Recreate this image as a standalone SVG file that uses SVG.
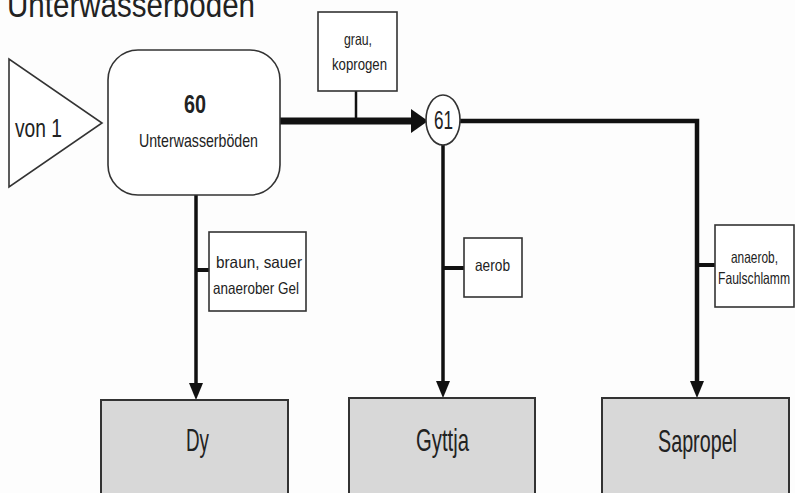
<svg xmlns="http://www.w3.org/2000/svg" width="795" height="493" viewBox="0 0 795 493">
  <style>
    text { font-family: "Liberation Sans", Arial, sans-serif; fill: #222; }
    .title { font-size: 35px; }
    .big { font-size: 26px; }
    .lbl { font-size: 16.5px; }
    .res { font-size: 32px; }
    .frame { fill: #fff; stroke: #333; stroke-width: 1.6; }
    .result { fill: #d8d8d8; stroke: #333; stroke-width: 2; }
    .wire { fill: none; stroke: #111; stroke-linecap: butt; }
    .head { fill: #111; }
  </style>

  <rect width="795" height="493" fill="#fdfdfd"/>

  <text class="title" x="7" y="17" textLength="248" lengthAdjust="spacingAndGlyphs">Unterwasserböden</text>

  <!-- connectors -->
  <g id="connectors">
    <!-- 60 -> 61 -->
    <line class="wire" x1="280" y1="121" x2="413" y2="121" stroke-width="7"/>
    <polygon class="head" points="411,109 428,121 411,133"/>
    <line class="wire" x1="356" y1="91" x2="356" y2="121" stroke-width="2.5"/>

    <!-- 60 -> Dy -->
    <line class="wire" x1="196" y1="195" x2="196" y2="386" stroke-width="3.5"/>
    <polygon class="head" points="189,383 203,383 196,400"/>
    <line class="wire" x1="196" y1="270" x2="209" y2="270" stroke-width="4"/>

    <!-- 61 -> Gyttja -->
    <line class="wire" x1="443" y1="145" x2="443" y2="384" stroke-width="3.5"/>
    <polygon class="head" points="436,381 450,381 443,398"/>
    <line class="wire" x1="443" y1="268" x2="464" y2="268" stroke-width="4"/>

    <!-- 61 -> Sapropel -->
    <polyline class="wire" points="460,121 697,121 697,384" stroke-width="4.5" stroke-linejoin="miter"/>
    <polygon class="head" points="690,381 704,381 697,398"/>
    <line class="wire" x1="697" y1="265" x2="715" y2="265" stroke-width="4"/>
  </g>

  <g id="von1">
    <polygon class="frame" points="9,59 9,187 102,123"/>
    <text class="big" x="15" y="137" textLength="47" lengthAdjust="spacingAndGlyphs">von 1</text>
  </g>

  <g id="n60">
    <rect class="frame" x="108" y="50" width="172" height="145" rx="30" ry="30"/>
    <text class="big" x="184" y="113" font-weight="bold" textLength="22" lengthAdjust="spacingAndGlyphs">60</text>
    <text x="139" y="147" font-size="18.5" textLength="119" lengthAdjust="spacingAndGlyphs">Unterwasserböden</text>
  </g>

  <g id="n61">
    <ellipse class="frame" cx="443" cy="120" rx="17" ry="25"/>
    <text class="big" x="434" y="129" textLength="19" lengthAdjust="spacingAndGlyphs">61</text>
  </g>

  <g id="lbl-grau">
    <rect class="frame" x="318" y="12" width="79" height="79"/>
    <text class="lbl" x="344" y="45" textLength="28" lengthAdjust="spacingAndGlyphs">grau,</text>
    <text class="lbl" x="332" y="70" textLength="55" lengthAdjust="spacingAndGlyphs">koprogen</text>
  </g>

  <g id="lbl-braun">
    <rect class="frame" x="209" y="232" width="97" height="79"/>
    <text class="lbl" x="216" y="268" textLength="86" lengthAdjust="spacingAndGlyphs">braun, sauer</text>
    <text class="lbl" x="213" y="294" textLength="86" lengthAdjust="spacingAndGlyphs">anaerober Gel</text>
  </g>

  <g id="lbl-aerob">
    <rect class="frame" x="464" y="238" width="58" height="59"/>
    <text class="lbl" x="475" y="271" textLength="35" lengthAdjust="spacingAndGlyphs">aerob</text>
  </g>

  <g id="lbl-anaerob">
    <rect class="frame" x="715" y="225" width="79" height="82"/>
    <text class="lbl" x="731" y="263" textLength="47" lengthAdjust="spacingAndGlyphs">anaerob,</text>
    <text class="lbl" x="718" y="284" textLength="72" lengthAdjust="spacingAndGlyphs">Faulschlamm</text>
  </g>

  <g id="dy">
    <rect class="result" x="101" y="400" width="187" height="110"/>
    <text class="res" x="186" y="451" textLength="23" lengthAdjust="spacingAndGlyphs">Dy</text>
  </g>

  <g id="gyttja">
    <rect class="result" x="349" y="398" width="186" height="110"/>
    <text class="res" x="416" y="451" textLength="53" lengthAdjust="spacingAndGlyphs">Gyttja</text>
  </g>

  <g id="sapropel">
    <rect class="result" x="602" y="398" width="187" height="110"/>
    <text class="res" x="658" y="452" textLength="79" lengthAdjust="spacingAndGlyphs">Sapropel</text>
  </g>
</svg>
